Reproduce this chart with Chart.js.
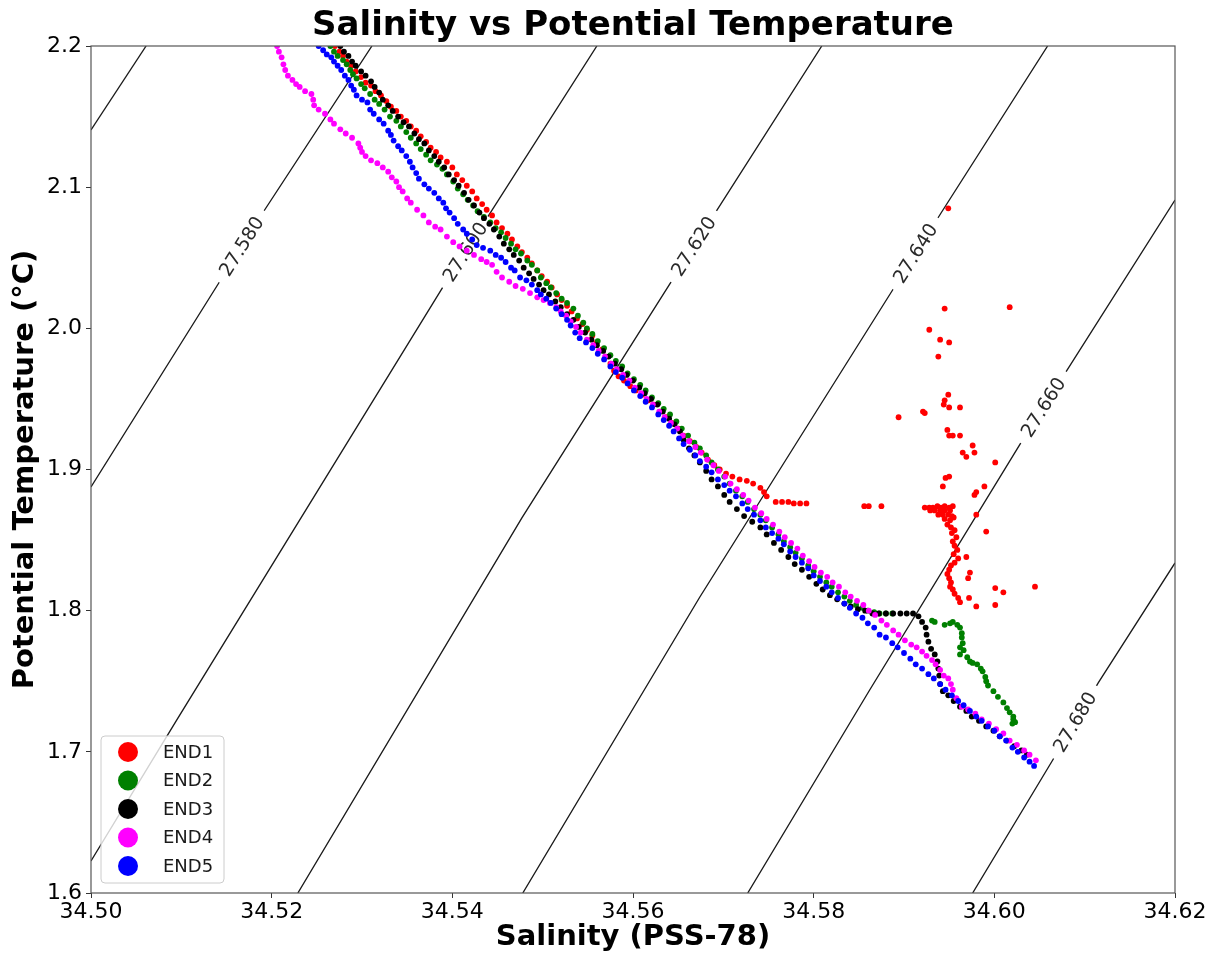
<!DOCTYPE html>
<html>
<head>
<meta charset="utf-8">
<title>Salinity vs Potential Temperature</title>
<script src="https://cdn.jsdelivr.net/npm/chart.js@4.4.1/dist/chart.umd.min.js"></script>
<style>
  html, body { margin: 0; padding: 0; background: #fff; }
</style>
</head>
<body>
<canvas id="tsChart" width="1222" height="955"></canvas>
<script>
// [salinity PSS-78, potential temperature °C] per cast
const end1 = [
  [34.5270,2.200],[34.5275,2.196],[34.5279,2.193],[34.5283,2.189],[34.5288,2.186],[34.5293,2.182],[34.5299,2.178],[34.5304,2.174],
  [34.5310,2.172],[34.5315,2.168],[34.5321,2.165],[34.5327,2.161],[34.5332,2.157],[34.5338,2.154],[34.5343,2.150],[34.5349,2.147],
  [34.5354,2.143],[34.5360,2.140],[34.5365,2.136],[34.5371,2.132],[34.5376,2.128],[34.5382,2.125],[34.5387,2.121],[34.5394,2.118],
  [34.5400,2.114],[34.5405,2.109],[34.5411,2.105],[34.5416,2.101],[34.5422,2.097],[34.5427,2.092],[34.5433,2.088],[34.5438,2.084],
  [34.5444,2.080],[34.5449,2.075],[34.5455,2.071],[34.5461,2.067],[34.5466,2.063],[34.5472,2.058],[34.5477,2.054],[34.5483,2.050],
  [34.5488,2.046],[34.5494,2.041],[34.5499,2.037],[34.5505,2.033],[34.5510,2.029],[34.5516,2.024],[34.5521,2.020],[34.5527,2.016],
  [34.5532,2.012],[34.5538,2.007],[34.5544,2.003],[34.5549,1.999],[34.5555,1.995],[34.5560,1.990],[34.5566,1.985],[34.5570,1.980],
  [34.5575,1.975],[34.5579,1.970],[34.5584,1.966],[34.5590,1.963],[34.5597,1.959],[34.5603,1.956],[34.5610,1.953],[34.5617,1.949],
  [34.5623,1.946],[34.5630,1.941],[34.5637,1.937],[34.5643,1.933],[34.5650,1.929],[34.5656,1.924],[34.5663,1.920],[34.5670,1.916],
  [34.5676,1.912],[34.5683,1.907],[34.5690,1.903],[34.5696,1.900],[34.5703,1.897],[34.5710,1.895],[34.5718,1.893],[34.5726,1.892],
  [34.5733,1.890],[34.5741,1.887],[34.5745,1.884],[34.5748,1.881],[34.5758,1.877],[34.5765,1.877],[34.5772,1.877],[34.5778,1.876],
  [34.5785,1.876],[34.5792,1.876],[34.5856,1.874],[34.5861,1.874],[34.5875,1.874],
  [34.5923,1.873],[34.5928,1.873],[34.5932,1.873],[34.5937,1.874],[34.5941,1.873],[34.5945,1.874],[34.5950,1.873],[34.5954,1.874],
  [34.5929,1.871],[34.5934,1.871],[34.5940,1.871],[34.5945,1.871],[34.5951,1.871],[34.5938,1.868],[34.5943,1.868],[34.5949,1.868],
  [34.5953,1.867],[34.5945,1.865],[34.5951,1.864],[34.5955,1.866],[34.5948,1.861],[34.5952,1.859],[34.5956,1.857],[34.5953,1.855],
  [34.5958,1.852],[34.5954,1.849],[34.5956,1.846],[34.5959,1.843],[34.5955,1.840],[34.5960,1.837],[34.5956,1.834],[34.5952,1.832],
  [34.5950,1.829],[34.5948,1.826],[34.5950,1.823],[34.5952,1.820],[34.5951,1.817],[34.5954,1.815],[34.5956,1.812],[34.5960,1.809],
  [34.5962,1.806],
  [34.5949,2.085],[34.5945,2.014],[34.6017,2.015],[34.5928,1.999],[34.5940,1.992],[34.5950,1.990],[34.5938,1.980],[34.5949,1.953],
  [34.5945,1.949],[34.5944,1.946],[34.5950,1.944],[34.5962,1.944],[34.5894,1.937],[34.5921,1.941],[34.5923,1.940],[34.5948,1.928],
  [34.5950,1.924],[34.5954,1.924],[34.5962,1.924],[34.5976,1.917],[34.5965,1.912],[34.5969,1.909],[34.5978,1.912],[34.6001,1.905],
  [34.5946,1.894],[34.5950,1.895],[34.5943,1.888],[34.5989,1.888],[34.5980,1.884],[34.5978,1.882],[34.5980,1.868],[34.5991,1.856],
  [34.5969,1.838],[34.5973,1.827],[34.5971,1.823],[34.5972,1.809],[34.5980,1.803],[34.6001,1.816],[34.6010,1.813],[34.6001,1.804],
  [34.6045,1.817]
];

const end2 = [
  [34.5265,2.200],[34.5269,2.196],[34.5273,2.193],[34.5279,2.190],[34.5283,2.187],[34.5287,2.183],[34.5290,2.180],[34.5294,2.177],
  [34.5299,2.173],[34.5303,2.170],[34.5309,2.166],[34.5314,2.162],[34.5319,2.159],[34.5325,2.155],[34.5331,2.150],[34.5338,2.147],
  [34.5343,2.143],[34.5349,2.139],[34.5354,2.135],[34.5360,2.131],[34.5365,2.127],[34.5371,2.123],[34.5376,2.119],[34.5383,2.116],
  [34.5389,2.113],[34.5394,2.109],[34.5401,2.104],[34.5406,2.099],[34.5412,2.095],[34.5417,2.091],[34.5423,2.087],[34.5428,2.083],
  [34.5435,2.079],[34.5442,2.075],[34.5448,2.071],[34.5454,2.068],[34.5459,2.064],[34.5465,2.060],[34.5470,2.056],[34.5476,2.053],
  [34.5483,2.048],[34.5488,2.045],[34.5494,2.041],[34.5498,2.036],[34.5504,2.032],[34.5509,2.029],[34.5515,2.025],[34.5521,2.021],
  [34.5527,2.018],[34.5534,2.014],[34.5539,2.009],[34.5545,2.004],[34.5549,2.000],[34.5555,1.996],[34.5561,1.991],[34.5568,1.986],
  [34.5575,1.981],[34.5581,1.977],[34.5588,1.973],[34.5594,1.968],[34.5601,1.964],[34.5608,1.960],[34.5614,1.956],[34.5621,1.951],
  [34.5628,1.947],[34.5634,1.943],[34.5641,1.939],[34.5648,1.934],[34.5654,1.929],[34.5661,1.924],[34.5668,1.919],[34.5674,1.915],
  [34.5681,1.910],[34.5687,1.905],[34.5694,1.900],[34.5701,1.895],[34.5707,1.890],[34.5714,1.885],[34.5721,1.881],[34.5727,1.877],
  [34.5734,1.872],[34.5741,1.868],[34.5747,1.864],[34.5754,1.859],[34.5761,1.854],[34.5767,1.849],[34.5774,1.845],[34.5780,1.841],
  [34.5787,1.837],[34.5794,1.832],[34.5800,1.828],[34.5807,1.824],[34.5814,1.820],[34.5820,1.817],[34.5827,1.813],[34.5834,1.810],
  [34.5840,1.807],[34.5847,1.804],[34.5854,1.802],[34.5860,1.800],[34.5867,1.799],[34.5873,1.798],[34.5880,1.798],[34.5887,1.798],
  [34.5931,1.793],[34.5934,1.792],[34.5945,1.790],[34.5951,1.791],[34.5954,1.792],[34.5959,1.790],[34.5962,1.788],[34.5964,1.784],
  [34.5964,1.781],[34.5965,1.777],[34.5962,1.774],[34.5962,1.769],[34.5966,1.772],[34.5970,1.767],[34.5973,1.764],[34.5976,1.763],
  [34.5981,1.762],[34.5985,1.759],[34.5987,1.757],[34.5990,1.753],[34.5991,1.750],[34.5993,1.747],[34.5999,1.743],[34.6004,1.739],
  [34.6010,1.735],[34.6014,1.731],[34.6017,1.728],[34.6021,1.725],[34.6021,1.723],[34.6020,1.720],[34.6023,1.721]
];

const end3 = [
  [34.5276,2.200],[34.5280,2.196],[34.5285,2.193],[34.5289,2.189],[34.5293,2.186],[34.5299,2.182],[34.5304,2.179],[34.5310,2.175],
  [34.5314,2.171],[34.5319,2.167],[34.5323,2.162],[34.5329,2.158],[34.5334,2.154],[34.5340,2.150],[34.5346,2.146],[34.5352,2.143],
  [34.5358,2.138],[34.5363,2.134],[34.5369,2.131],[34.5374,2.126],[34.5380,2.122],[34.5385,2.118],[34.5391,2.114],[34.5396,2.109],
  [34.5402,2.105],[34.5407,2.101],[34.5413,2.096],[34.5418,2.091],[34.5424,2.087],[34.5430,2.082],[34.5435,2.078],[34.5441,2.074],
  [34.5446,2.070],[34.5452,2.065],[34.5457,2.060],[34.5463,2.056],[34.5468,2.052],[34.5474,2.048],[34.5479,2.043],[34.5485,2.039],
  [34.5490,2.035],[34.5496,2.031],[34.5501,2.027],[34.5507,2.024],[34.5514,2.019],[34.5520,2.015],[34.5527,2.010],[34.5534,2.006],
  [34.5540,2.001],[34.5547,1.997],[34.5554,1.992],[34.5560,1.988],[34.5567,1.984],[34.5573,1.980],[34.5580,1.975],[34.5587,1.971],
  [34.5593,1.967],[34.5600,1.963],[34.5607,1.958],[34.5613,1.954],[34.5620,1.950],[34.5627,1.946],[34.5633,1.941],[34.5640,1.936],
  [34.5646,1.932],[34.5652,1.927],[34.5656,1.921],[34.5662,1.915],[34.5668,1.910],[34.5674,1.905],[34.5681,1.899],[34.5687,1.893],
  [34.5694,1.888],[34.5701,1.882],[34.5707,1.877],[34.5715,1.872],[34.5723,1.867],[34.5732,1.863],[34.5741,1.859],[34.5748,1.854],
  [34.5756,1.848],[34.5764,1.843],[34.5772,1.838],[34.5779,1.833],[34.5787,1.829],[34.5795,1.824],[34.5803,1.819],[34.5810,1.815],
  [34.5818,1.811],[34.5826,1.808],[34.5834,1.805],[34.5841,1.803],[34.5849,1.801],[34.5857,1.800],[34.5865,1.798],[34.5872,1.798],
  [34.5880,1.798],[34.5888,1.798],[34.5896,1.798],[34.5903,1.798],[34.5910,1.798],[34.5916,1.796],[34.5920,1.792],[34.5924,1.788],
  [34.5925,1.783],[34.5927,1.778],[34.5930,1.773],[34.5934,1.769],[34.5937,1.764],[34.5938,1.759],[34.5939,1.754],[34.5940,1.748],
  [34.5943,1.743],[34.5949,1.740],[34.5955,1.736],[34.5962,1.732],[34.5969,1.729],[34.5975,1.725],[34.5983,1.722],[34.5991,1.718],
  [34.5999,1.715],[34.6006,1.711],[34.6014,1.708],[34.6022,1.704],[34.6030,1.701],[34.6036,1.698]
];

const end4 = [
  [34.5206,2.200],[34.5208,2.196],[34.5211,2.192],[34.5213,2.187],[34.5215,2.183],[34.5218,2.179],[34.5223,2.176],[34.5227,2.173],
  [34.5231,2.171],[34.5237,2.168],[34.5244,2.166],[34.5246,2.162],[34.5247,2.158],[34.5252,2.155],[34.5259,2.152],[34.5265,2.148],
  [34.5269,2.145],[34.5276,2.141],[34.5282,2.138],[34.5289,2.135],[34.5296,2.131],[34.5298,2.128],[34.5300,2.125],[34.5304,2.122],
  [34.5310,2.119],[34.5317,2.117],[34.5323,2.114],[34.5329,2.111],[34.5333,2.107],[34.5338,2.104],[34.5341,2.100],[34.5345,2.097],
  [34.5350,2.092],[34.5354,2.089],[34.5361,2.084],[34.5368,2.080],[34.5374,2.075],[34.5381,2.072],[34.5387,2.070],[34.5394,2.065],
  [34.5401,2.061],[34.5408,2.058],[34.5416,2.055],[34.5424,2.052],[34.5432,2.049],[34.5438,2.047],[34.5444,2.045],[34.5449,2.040],
  [34.5455,2.036],[34.5463,2.033],[34.5470,2.030],[34.5478,2.028],[34.5486,2.025],[34.5494,2.022],[34.5501,2.020],[34.5508,2.018],
  [34.5515,2.015],[34.5520,2.012],[34.5526,2.009],[34.5531,2.005],[34.5537,2.001],[34.5542,1.997],[34.5549,1.992],[34.5556,1.988],
  [34.5562,1.984],[34.5569,1.980],[34.5576,1.975],[34.5582,1.971],[34.5589,1.967],[34.5596,1.963],[34.5602,1.958],[34.5609,1.954],
  [34.5615,1.950],[34.5622,1.946],[34.5629,1.941],[34.5635,1.937],[34.5642,1.933],[34.5649,1.929],[34.5655,1.924],[34.5662,1.920],
  [34.5669,1.916],[34.5675,1.912],[34.5682,1.907],[34.5689,1.903],[34.5695,1.899],[34.5702,1.895],[34.5708,1.890],[34.5715,1.886],
  [34.5722,1.882],[34.5728,1.878],[34.5735,1.873],[34.5742,1.869],[34.5748,1.865],[34.5755,1.861],[34.5762,1.856],[34.5768,1.852],
  [34.5775,1.848],[34.5782,1.844],[34.5788,1.839],[34.5795,1.835],[34.5801,1.831],[34.5808,1.827],[34.5815,1.824],[34.5821,1.820],
  [34.5828,1.817],[34.5835,1.813],[34.5841,1.810],[34.5848,1.807],[34.5855,1.804],[34.5861,1.800],[34.5868,1.797],[34.5875,1.793],
  [34.5881,1.790],[34.5888,1.786],[34.5894,1.783],[34.5901,1.779],[34.5908,1.776],[34.5914,1.774],[34.5920,1.771],[34.5925,1.768],
  [34.5931,1.765],[34.5935,1.762],[34.5940,1.758],[34.5944,1.754],[34.5949,1.752],[34.5952,1.748],[34.5954,1.744],[34.5958,1.738],
  [34.5964,1.732],[34.5971,1.730],[34.5979,1.727],[34.5986,1.723],[34.5994,1.720],[34.6002,1.716],[34.6010,1.713],[34.6017,1.708],
  [34.6025,1.705],[34.6033,1.701],[34.6039,1.698],[34.6046,1.694]
];

const end5 = [
  [34.5252,2.200],[34.5257,2.197],[34.5261,2.194],[34.5266,2.192],[34.5269,2.189],[34.5273,2.186],[34.5277,2.183],[34.5281,2.179],
  [34.5285,2.176],[34.5288,2.172],[34.5291,2.169],[34.5294,2.165],[34.5300,2.162],[34.5306,2.160],[34.5309,2.155],[34.5313,2.152],
  [34.5319,2.148],[34.5324,2.145],[34.5329,2.140],[34.5332,2.137],[34.5335,2.133],[34.5340,2.129],[34.5344,2.126],[34.5349,2.122],
  [34.5353,2.118],[34.5356,2.114],[34.5360,2.110],[34.5363,2.106],[34.5369,2.102],[34.5374,2.099],[34.5380,2.096],[34.5385,2.092],
  [34.5390,2.089],[34.5393,2.085],[34.5397,2.082],[34.5402,2.078],[34.5406,2.074],[34.5412,2.070],[34.5416,2.067],[34.5422,2.063],
  [34.5427,2.059],[34.5434,2.057],[34.5442,2.055],[34.5448,2.052],[34.5454,2.050],[34.5459,2.047],[34.5465,2.043],[34.5469,2.041],
  [34.5475,2.036],[34.5482,2.034],[34.5488,2.031],[34.5494,2.027],[34.5498,2.024],[34.5504,2.021],[34.5509,2.018],[34.5515,2.014],
  [34.5521,2.010],[34.5527,2.006],[34.5531,2.002],[34.5536,1.997],[34.5541,1.993],[34.5548,1.990],[34.5555,1.986],[34.5561,1.982],
  [34.5568,1.978],[34.5575,1.973],[34.5581,1.969],[34.5588,1.965],[34.5594,1.961],[34.5601,1.956],[34.5608,1.952],[34.5614,1.948],
  [34.5621,1.944],[34.5628,1.939],[34.5634,1.935],[34.5640,1.931],[34.5645,1.927],[34.5651,1.922],[34.5656,1.918],[34.5663,1.914],
  [34.5669,1.910],[34.5674,1.906],[34.5681,1.902],[34.5687,1.898],[34.5694,1.893],[34.5701,1.889],[34.5707,1.885],[34.5714,1.881],
  [34.5721,1.876],[34.5727,1.872],[34.5734,1.868],[34.5741,1.864],[34.5747,1.859],[34.5754,1.855],[34.5761,1.851],[34.5767,1.847],
  [34.5774,1.842],[34.5780,1.838],[34.5787,1.834],[34.5794,1.830],[34.5800,1.825],[34.5807,1.821],[34.5814,1.817],[34.5820,1.813],
  [34.5827,1.809],[34.5834,1.805],[34.5840,1.802],[34.5847,1.798],[34.5854,1.795],[34.5860,1.791],[34.5867,1.788],[34.5873,1.783],
  [34.5880,1.781],[34.5887,1.777],[34.5893,1.774],[34.5900,1.770],[34.5907,1.766],[34.5913,1.762],[34.5920,1.759],[34.5927,1.755],
  [34.5933,1.752],[34.5940,1.748],[34.5946,1.744],[34.5953,1.740],[34.5960,1.736],[34.5966,1.733],[34.5973,1.729],[34.5980,1.725],
  [34.5986,1.722],[34.5993,1.718],[34.6000,1.715],[34.6006,1.711],[34.6013,1.708],[34.6020,1.703],[34.6026,1.700],[34.6033,1.696],
  [34.6039,1.693],[34.6044,1.690]
];

const seriesNames = ['END1', 'END2', 'END3', 'END4', 'END5'];
const seriesData = [end1, end2, end3, end4, end5];
const seriesColors = ['#ff0000', '#008000', '#000000', '#ff00ff', '#0000ff'];

// sigma-theta isopycnals, each traced bottom to top
const contourLevels = ['27.560', '27.580', '27.600', '27.620', '27.640', '27.660', '27.680'];
const contourS = [
  [34.5000, 34.5061],
  [34.5000, 34.5190, 34.5311],
  [34.5000, 34.5095, 34.5389, 34.5560],
  [34.5229, 34.5477, 34.5638, 34.5809],
  [34.5478, 34.5674, 34.5783, 34.5941, 34.6059],
  [34.5727, 34.5862, 34.6028, 34.6200],
  [34.5976, 34.6064, 34.6115, 34.6200]
];
const contourT = [
  [2.1405, 2.2000],
  [1.8876, 2.0817, 2.2000],
  [1.6227, 1.7226, 2.0286, 2.2000],
  [1.6000, 1.8657, 2.0286, 2.2000],
  [1.6000, 1.8097, 1.9209, 2.0817, 2.2000],
  [1.6000, 1.7438, 1.9174, 2.0909],
  [1.6000, 1.6935, 1.7488, 1.8338]
];

const FONT = 'DejaVu Sans';

// inline labels on the isopycnals: cut a gap in the line, write the level along it
const contourLabels = {
  id: 'contourLabels',
  afterDatasetDraw(chart, args, opts) {
    if (args.index !== seriesData.length) return; // last isopycnal drawn
    const ctx = chart.ctx;
    const xs = chart.scales.x, ys = chart.scales.y;
    ctx.save();
    ctx.font = opts.fontSize + 'px "' + FONT + '"';
    ctx.textAlign = 'center';
    ctx.textBaseline = 'middle';
    opts.at.forEach((t, i) => {
      if (t === null) return;
      const sArr = contourS[i], tArr = contourT[i];
      for (let k = 0; k < sArr.length - 1; k++) {
        const t0 = tArr[k], t1 = tArr[k + 1];
        if ((t - t0) * (t - t1) > 0) continue;
        const x0 = xs.getPixelForValue(sArr[k]), y0 = ys.getPixelForValue(t0);
        const x1 = xs.getPixelForValue(sArr[k + 1]), y1 = ys.getPixelForValue(t1);
        const f = (t - t0) / (t1 - t0);
        const cx = x0 + f * (x1 - x0), cy = y0 + f * (y1 - y0);
        const text = contourLevels[i];
        const w = ctx.measureText(text).width;
        ctx.save();
        ctx.translate(cx, cy);
        ctx.rotate(Math.atan2(y1 - y0, x1 - x0));
        ctx.fillStyle = '#ffffff';
        ctx.fillRect(-w / 2 - opts.gap, -4, w + 2 * opts.gap, 8);
        ctx.fillStyle = opts.color;
        ctx.fillText(text, 0, 1);
        ctx.restore();
        break;
      }
    });
    ctx.restore();
  }
};

// axes frame and the boxed legend in the lower left corner
const frameLegend = {
  id: 'frameLegend',
  afterDraw(chart) {
    const { ctx, chartArea: a } = chart;
    ctx.save();
    ctx.strokeStyle = '#555';
    ctx.lineWidth = 1.2;
    ctx.strokeRect(a.left, a.top, a.right - a.left, a.bottom - a.top);

    const bw = 123, bh = 147;
    const bx = a.left + 10, by = a.bottom - 10 - bh;
    ctx.beginPath();
    ctx.roundRect(bx, by, bw, bh, 4);
    ctx.fillStyle = 'rgba(255,255,255,0.8)';
    ctx.fill();
    ctx.strokeStyle = '#cccccc';
    ctx.lineWidth = 1;
    ctx.stroke();

    ctx.font = '18px "' + FONT + '"';
    ctx.textAlign = 'left';
    ctx.textBaseline = 'middle';
    seriesNames.forEach((name, i) => {
      const cy = by + 16 + i * 28.5;
      ctx.beginPath();
      ctx.arc(bx + 27, cy, 10, 0, Math.PI * 2);
      ctx.fillStyle = seriesColors[i];
      ctx.fill();
      ctx.fillStyle = '#1a1a1a';
      ctx.fillText(name, bx + 62, cy + 1);
    });
    ctx.restore();
  }
};

const datasets = seriesNames.map((name, i) => ({
  label: name,
  data: seriesData[i].map(p => ({ x: p[0], y: p[1] })),
  backgroundColor: seriesColors[i],
  borderColor: seriesColors[i],
  borderWidth: 0,
  pointRadius: 2.9,
  showLine: false,
  clip: 0,
  order: seriesNames.length - i
}));

contourLevels.forEach((lv, i) => {
  datasets.push({
    type: 'line',
    label: lv,
    data: contourS[i].map((s, k) => ({ x: s, y: contourT[i][k] })),
    borderColor: '#1a1a1a',
    borderWidth: 1.35,
    pointRadius: 0,
    fill: false,
    tension: 0,
    clip: 0,
    order: 10
  });
});

new Chart(document.getElementById('tsChart'), {
  type: 'scatter',
  data: { datasets: datasets },
  plugins: [contourLabels, frameLegend],
  options: {
    responsive: false,
    animation: false,
    events: [],
    layout: { padding: { left: 0, right: 47, top: 0, bottom: 0 } },
    plugins: {
      legend: { display: false },
      tooltip: { enabled: false },
      title: {
        display: true,
        fullSize: false,
        text: 'Salinity vs Potential Temperature',
        color: '#000',
        font: { family: FONT, size: 34, weight: 'bold', lineHeight: 1.0 },
        padding: { top: 9.5, bottom: 2.5 }
      },
      contourLabels: {
        at: [null, 2.058, 2.054, 2.058, 2.053, 1.944, 1.721],
        fontSize: 19,
        gap: 9,
        color: '#2a2a2a'
      }
    },
    scales: {
      x: {
        type: 'linear',
        min: 34.5,
        max: 34.62,
        afterFit(s) { s.height = 62; },
        border: { display: false },
        grid: { drawOnChartArea: false, drawTicks: true, tickLength: 5, color: '#333' },
        ticks: {
          stepSize: 0.02,
          autoSkip: false,
          maxRotation: 0,
          padding: 1,
          color: '#000',
          font: { family: FONT, size: 22 },
          callback: v => Number(v).toFixed(2)
        },
        title: {
          display: true,
          text: 'Salinity (PSS-78)',
          color: '#000',
          font: { family: FONT, size: 29, weight: 'bold' },
          padding: { top: 0, bottom: 0 }
        }
      },
      y: {
        type: 'linear',
        min: 1.6,
        max: 2.2,
        afterFit(s) { s.width = 91; },
        border: { display: false },
        grid: { drawOnChartArea: false, drawTicks: true, tickLength: 5, color: '#333' },
        ticks: {
          stepSize: 0.1,
          autoSkip: false,
          padding: 4,
          color: '#000',
          font: { family: FONT, size: 22 },
          callback: v => Number(v).toFixed(1)
        },
        title: {
          display: true,
          text: 'Potential Temperature (°C)',
          color: '#000',
          font: { family: FONT, size: 29, weight: 'bold' },
          padding: { top: 8, bottom: 0 }
        }
      }
    }
  }
});
</script>
</body>
</html>
